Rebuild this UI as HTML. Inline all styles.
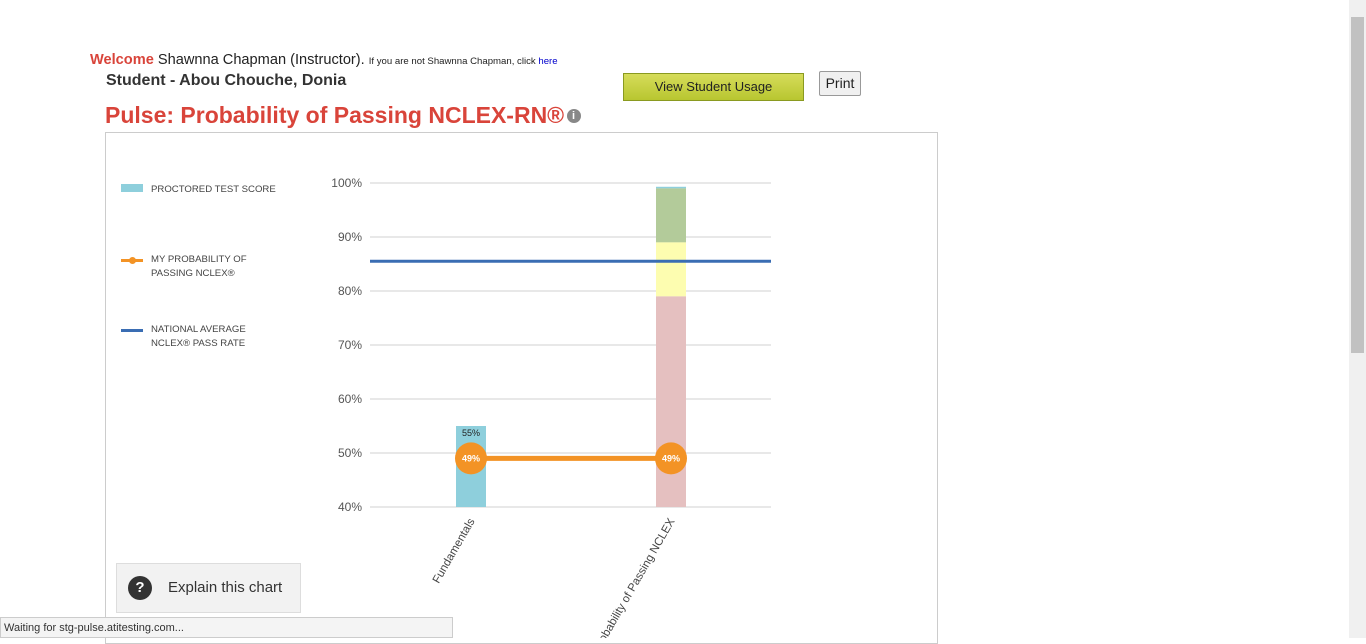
<!DOCTYPE html>
<html><head><meta charset="utf-8"><style>
body{margin:0;width:1366px;height:638px;overflow:hidden;background:#fff;font-family:"Liberation Sans",Arial,sans-serif;position:relative}
.abs{position:absolute;box-sizing:border-box}
</style></head><body>
<div class="abs" style="left:90px;top:52px;font-size:14.6px;color:#222;white-space:nowrap"><span style="color:#d9443a;font-weight:bold">Welcome</span> Shawnna Chapman (Instructor). <span style="font-size:9.6px">If you are not Shawnna Chapman, click <a style="color:#0000cc;text-decoration:none">here</a></span></div>
<div class="abs" style="left:106px;top:72px;font-size:16px;font-weight:bold;color:#333">Student - Abou Chouche, Donia</div>
<div class="abs" style="left:105px;top:102px;font-size:23px;font-weight:bold;color:#d9443a;white-space:nowrap">Pulse: Probability of Passing NCLEX-RN® <span style="display:inline-block;width:14px;height:14px;border-radius:50%;background:#888;color:#fff;font-size:11px;text-align:center;line-height:14px;vertical-align:4px;margin-left:-4px">i</span></div>
<div class="abs" style="left:623px;top:73px;width:181px;height:28px;background:linear-gradient(#d6dc5a,#b8c630);border:1px solid #8a9a20;font-size:13px;color:#222;text-align:center;line-height:26px">View Student Usage</div>
<div class="abs" style="left:819px;top:71px;width:42px;height:25px;background:#f0f0f0;border:1px solid #999;border-radius:2px;font-size:14px;color:#222;text-align:center;line-height:23px">Print</div>
<div class="abs" style="left:105px;top:132px;width:833px;height:512px;border:1px solid #ccc"></div>
<div class="abs" style="left:121px;top:183px;font-size:9.6px;color:#444;line-height:14px">
<div class="abs" style="top:0;white-space:nowrap"><span style="display:inline-block;width:22px;height:8px;background:#8ecfdc;margin-right:8px"></span>PROCTORED TEST SCORE</div>
<div class="abs" style="top:70px;left:0;white-space:nowrap"><span class="abs" style="left:0;top:6px;width:22px;height:3px;background:#f39325"></span><span class="abs" style="left:8px;top:4px;width:7px;height:7px;border-radius:50%;background:#f39325"></span><div style="margin-left:30px">MY PROBABILITY OF<br>PASSING NCLEX®</div></div>
<div class="abs" style="top:140px;left:0;white-space:nowrap"><span class="abs" style="left:0;top:6px;width:22px;height:3px;background:#3a6db3"></span><div style="margin-left:30px">NATIONAL AVERAGE<br>NCLEX® PASS RATE</div></div>
</div>
<svg class="abs" style="left:0;top:0" width="1366" height="638" id="chart"></svg>
<div class="abs" style="left:116px;top:563px;width:185px;height:50px;background:#f2f2f2;border:1px solid #ddd;font-size:15px;color:#333;line-height:48px"><span style="display:inline-block;width:24px;height:24px;border-radius:50%;background:#333;color:#fff;text-align:center;line-height:24px;font-weight:bold;margin:0 16px 0 11px;vertical-align:middle">?</span>Explain this chart</div>
<div class="abs" style="left:0;top:617px;width:453px;height:21px;background:#f4f4f4;border:1px solid #ccc;font-size:11px;color:#333;line-height:20px;padding-left:3px">Waiting for stg-pulse.atitesting.com...</div>
<div class="abs" style="left:1349px;top:0;width:17px;height:638px;background:#f0f0f0"><div style="position:absolute;left:2px;top:17px;width:13px;height:336px;background:#c1c1c1"></div></div>
<script>
const categories=["Fundamentals","Probability of Passing NCLEX"];
const proctored=[55,null];
const bandRed=[null,79];
const bandYellow=[null,89];
const bandGreen=[null,99];
const bandBlueTop=[null,99.3];
const probability=[49,49];
const national=85.5;
const ticks=[40,50,60,70,80,90,100];
const svg=document.getElementById('chart');
const NS='http://www.w3.org/2000/svg';
const y=v=>507-(v-40)*5.4;
const x=i=>471+i*200;
function mk(t,a,p){const e=document.createElementNS(NS,t);for(const k in a)e.setAttribute(k,a[k]);(p||svg).appendChild(e);return e;}
ticks.forEach(t=>{
 const l=mk('line',{x1:370,x2:771,y1:y(t),y2:y(t),stroke:'#d0d0d0','stroke-width':1});
 
 
 const tx=mk('text',{x:362,y:y(t)+4,'text-anchor':'end','font-size':12,fill:'#555','font-family':'Liberation Sans'});
 tx.textContent=t+'%';
 
 
});
const bw=30;
function bar(i,v0,v1,c,n){const r=mk('rect',{x:x(i)-bw/2,y:y(v1),width:bw,height:y(v0)-y(v1),fill:c});
 
 }
categories.forEach((c,i)=>{
 if(proctored[i]!=null){bar(i,40,proctored[i],'#8ecfdc','bar-proctored');
  const t=mk('text',{x:x(i),y:y(proctored[i])+10,'text-anchor':'middle','font-size':9,fill:'#222','font-family':'Liberation Sans'});t.textContent=proctored[i]+'%';
  
  }
 if(bandRed[i]!=null){
  bar(i,bandGreen[i],bandBlueTop[i],'#8ecfdc','band-blue');
  bar(i,bandYellow[i],bandGreen[i],'#b3cb9a','band-green');
  bar(i,bandRed[i],bandYellow[i],'#fdfdb0','band-yellow');
  bar(i,40,bandRed[i],'#e5c0c0','band-red');}
 const t=mk('text',{x:0,y:0,transform:`translate(${x(i)+4},${521}) rotate(-60)`,'text-anchor':'end','font-size':11.5,fill:'#444','font-family':'Liberation Sans'});
 t.textContent=c;
 
 
});
const nl=mk('line',{x1:370,x2:771,y1:y(national),y2:y(national),stroke:'#3a6db3','stroke-width':3});


const pl=mk('polyline',{points:probability.map((v,i)=>x(i)+','+y(v)).join(' '),stroke:'#f39325','stroke-width':5,fill:'none'});


probability.forEach((v,i)=>{
 const c=mk('circle',{cx:x(i),cy:y(v),r:16,fill:'#f39325'});
 
 
 const t=mk('text',{x:x(i),y:y(v)+3,'text-anchor':'middle','font-size':9,'font-weight':'bold',fill:'#fff','font-family':'Liberation Sans'});
 t.textContent=v+'%';
 
 
});
</script>
</body></html>
